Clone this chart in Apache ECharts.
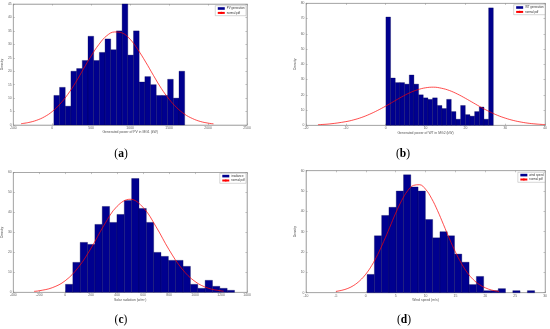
<!DOCTYPE html>
<html><head><meta charset="utf-8">
<script src="https://cdn.jsdelivr.net/npm/echarts@6/dist/echarts.min.js"></script>
<style>html,body{margin:0;padding:0;background:#fff}#c{width:550px;height:329px}</style>
</head><body><div id="c"></div>
<script>
// ---- Panel (a): PV generation ----
const pvCounts = [11,14,7,20,21,24,33,24,27,32,28,35,45,26,35,16,18,15,11,11,17,10,20];
const pvBinRange = [21, 1700];
const pvPdfX = [-400,-300,-200,-100,0,100,200,300,400,500,600,700,800,900,1000,1100,1200,1300,1400,1500,1600,1700,1800,1900,2000,2070];
const pvPdfY = [0.49,0.95,1.76,3.05,5.0,7.8,11.4,15.8,20.8,25.7,30.0,33.2,34.6,34.2,31.9,28.0,23.4,18.4,13.6,9.6,6.4,4.0,2.4,1.32,0.70,0.43];
const pvXAxis = [-500, 2500, 500];
const pvYAxis = [0, 45, 5];

// ---- Panel (b): WT generation ----
const wtCounts = [71,31,28,28,27,33,27,20,18,17,18,13,11,17,9,4,13,7,6,9,12,4,77];
const wtBinRange = [0.05, 27.0];
const wtPdfX = [-17,-14,-10,-8,-6,-4,-2,0,2,4,6,8,10,12,14,16,18,20,22,24,26,28,30,32,34,36,38,40];
const wtPdfY = [0.41,0.92,2.4,3.6,5.2,7.3,9.8,12.6,15.6,18.6,21.3,23.3,24.6,25.0,24.3,22.8,20.5,17.7,14.7,11.7,9.0,6.6,4.7,3.2,2.1,1.3,0.79,0.46];
const wtXAxis = [-20, 40, 10];
const wtYAxis = [0, 80, 10];

// ---- Panel (c): irradiance ----
const irCounts = [4,15,25,24,34,43,35,39,46,57,42,35,20,18,16,16,13,4,2,6,3,2,1];
const irBinRange = [2, 1304];
const irPdfX = [-240,-200,-100,0,100,200,300,400,500,600,700,800,900,1000,1100,1200,1220];
const irPdfY = [0.47,0.77,2.3,5.8,12.4,22.2,33.7,43.1,46.6,42.5,32.8,21.3,11.7,5.4,2.1,0.70,0.55];
const irXAxis = [-400, 1400, 200];
const irYAxis = [0, 60, 10];

// ---- Panel (d): wind speed ----
const wsCounts = [9,28,38,42,50,58,52,50,36,27,30,28,19,15,4,8,1,1,2,0,1,0,1];
const wsBinRange = [0.22, 28.25];
const wsPdfX = [-5,-4,-3,-2,-1,0,1,2,3,4,5,6,7,8,9,10,11,12,13,14,15,16,17,18,19,20,21,22,22.3];
const wsPdfY = [0.63,1.19,2.1,3.6,5.9,9.1,13.4,18.8,25.2,32.1,39.1,45.3,50.1,52.8,53.1,50.9,46.4,40.4,33.5,26.5,20.0,14.4,9.8,6.4,4.0,2.4,1.34,0.72,0.6];
const wsXAxis = [-10, 30, 5];
const wsYAxis = [0, 60, 10];

const seriesNames = ['PV generation','WT generation','irradiance','wind speed'];
const pdfName = 'normal pdf';
const xNames = ['Generated power of PV in MG1 (kW)','Generated power of WT in MG2 (kW)','Solar radiation (w/m\u00B2)','Wind speed (m/s)'];
const yName = 'Density';
const captions = ['a','b','c','d'];

const panels = [
  {counts: pvCounts, range: pvBinRange, px: pvPdfX, py: pvPdfY, xa: pvXAxis, ya: pvYAxis,
   grid: {left: 11, top: 4, width: 236, height: 121}, legend: {right: 304, top: 5.7}, cap: [121, 154]},
  {counts: wtCounts, range: wtBinRange, px: wtPdfX, py: wtPdfY, xa: wtXAxis, ya: wtYAxis,
   grid: {left: 306, top: 3.3, width: 240.7, height: 122}, legend: {right: 5, top: 4.7}, cap: [403, 154]},
  {counts: irCounts, range: irBinRange, px: irPdfX, py: irPdfY, xa: irXAxis, ya: irYAxis,
   grid: {left: 11, top: 172.5, width: 236, height: 119.8}, legend: {right: 304, top: 173.3}, cap: [121, 320]},
  {counts: wsCounts, range: wsBinRange, px: wsPdfX, py: wsPdfY, xa: wsXAxis, ya: wsYAxis,
   grid: {left: 306, top: 170.7, width: 240.7, height: 122}, legend: {right: 5, top: 172.3}, cap: [404, 320]}
];

const axisColor = '#8a8a8a';
const labelStyle = {fontSize: 3.4, color: '#666', fontFamily: 'Liberation Sans', formatter: v => String(v)};

const grids = [], xAxes = [], yAxes = [], series = [], legends = [], graphics = [];

function barRender(params, api) {
  const x0 = api.value(0), x1 = api.value(1), v = api.value(2);
  if (!v) return {type: 'group', children: []};
  const p0 = api.coord([x0, v]);
  const p1 = api.coord([x1, 0]);
  return {
    type: 'rect',
    shape: {x: p0[0], y: p0[1], width: p1[0] - p0[0], height: p1[1] - p0[1]},
    style: {fill: '#00008f', stroke: '#00004a', lineWidth: 0.3}
  };
}

panels.forEach((p, i) => {
  grids.push(Object.assign({show: true, borderColor: axisColor, borderWidth: 0.5, backgroundColor: '#fff'}, p.grid));
  const tick = {show: true, inside: true, length: 1.6, lineStyle: {color: axisColor, width: 0.5}};
  const line = {show: true, onZero: false, lineStyle: {color: axisColor, width: 0.5}};
  xAxes.push({
    gridIndex: i, type: 'value', position: 'bottom', min: p.xa[0], max: p.xa[1], interval: p.xa[2],
    axisLine: line, axisTick: tick, splitLine: {show: false},
    axisLabel: Object.assign({margin: 1.6}, labelStyle),
    name: xNames[i], nameLocation: 'middle', nameGap: 6,
    nameTextStyle: {fontSize: 3.4, color: '#555', fontFamily: 'Liberation Sans'}
  });
  xAxes.push({
    gridIndex: i, type: 'value', position: 'top', min: p.xa[0], max: p.xa[1], interval: p.xa[2],
    axisLine: line, axisTick: tick, splitLine: {show: false}, axisLabel: {show: false}
  });
  yAxes.push({
    gridIndex: i, type: 'value', position: 'left', min: p.ya[0], max: p.ya[1], interval: p.ya[2],
    axisLine: line, axisTick: tick, splitLine: {show: false},
    axisLabel: Object.assign({margin: 1.6}, labelStyle),
    name: yName, nameLocation: 'middle', nameGap: 7,
    nameTextStyle: {fontSize: 3.4, color: '#555', fontFamily: 'Liberation Sans'}
  });
  yAxes.push({
    gridIndex: i, type: 'value', position: 'right', min: p.ya[0], max: p.ya[1], interval: p.ya[2],
    axisLine: line, axisTick: tick, splitLine: {show: false}, axisLabel: {show: false}
  });

  const n = p.counts.length;
  const w = (p.range[1] - p.range[0]) / n;
  const barData = p.counts.map((c, k) => [p.range[0] + k * w, p.range[0] + (k + 1) * w, c]);
  series.push({
    type: 'custom', name: seriesNames[i], xAxisIndex: 2 * i, yAxisIndex: 2 * i,
    renderItem: barRender, data: barData, encode: {x: [0, 1], y: 2},
    itemStyle: {color: '#00008f'}, silent: true, z: 2
  });
  series.push({
    type: 'line', name: pdfName, xAxisIndex: 2 * i, yAxisIndex: 2 * i,
    data: p.px.map((x, k) => [x, p.py[k]]), smooth: 0.4, symbol: 'none',
    lineStyle: {color: '#ff0000', width: 0.7}, itemStyle: {color: '#ff0000'}, z: 3, silent: true
  });

  legends.push(Object.assign({
    orient: 'vertical', selectedMode: false,
    data: [{name: seriesNames[i], icon: 'rect'}, {name: pdfName}],
    itemWidth: 7, itemHeight: 2.6, itemGap: 1.4, padding: [1.3, 1.5, 1.3, 1.5],
    borderColor: '#999', borderWidth: 0.4, backgroundColor: '#fff',
    textStyle: {fontSize: 2.8, color: '#333', fontFamily: 'Liberation Sans', padding: [0, 0, 0, -3]}
  }, p.legend));

  graphics.push({
    type: 'text', x: p.cap[0], y: p.cap[1],
    style: {
      text: '({b|' + captions[i] + '})',
      rich: {b: {fontWeight: 'bold', fontSize: 11.5, fontFamily: 'Liberation Serif', fill: '#000'}},
      fontSize: 11.5, fontFamily: 'Liberation Serif', fill: '#000',
      textAlign: 'center', align: 'center', textVerticalAlign: 'middle', verticalAlign: 'middle'
    }
  });
});

const chart = echarts.init(document.getElementById('c'), null, {renderer: 'canvas'});
chart.setOption({
  animation: false,
  backgroundColor: '#fff',
  grid: grids, xAxis: xAxes, yAxis: yAxes, series: series, legend: legends, graphic: graphics
});
</script>
</body></html>
